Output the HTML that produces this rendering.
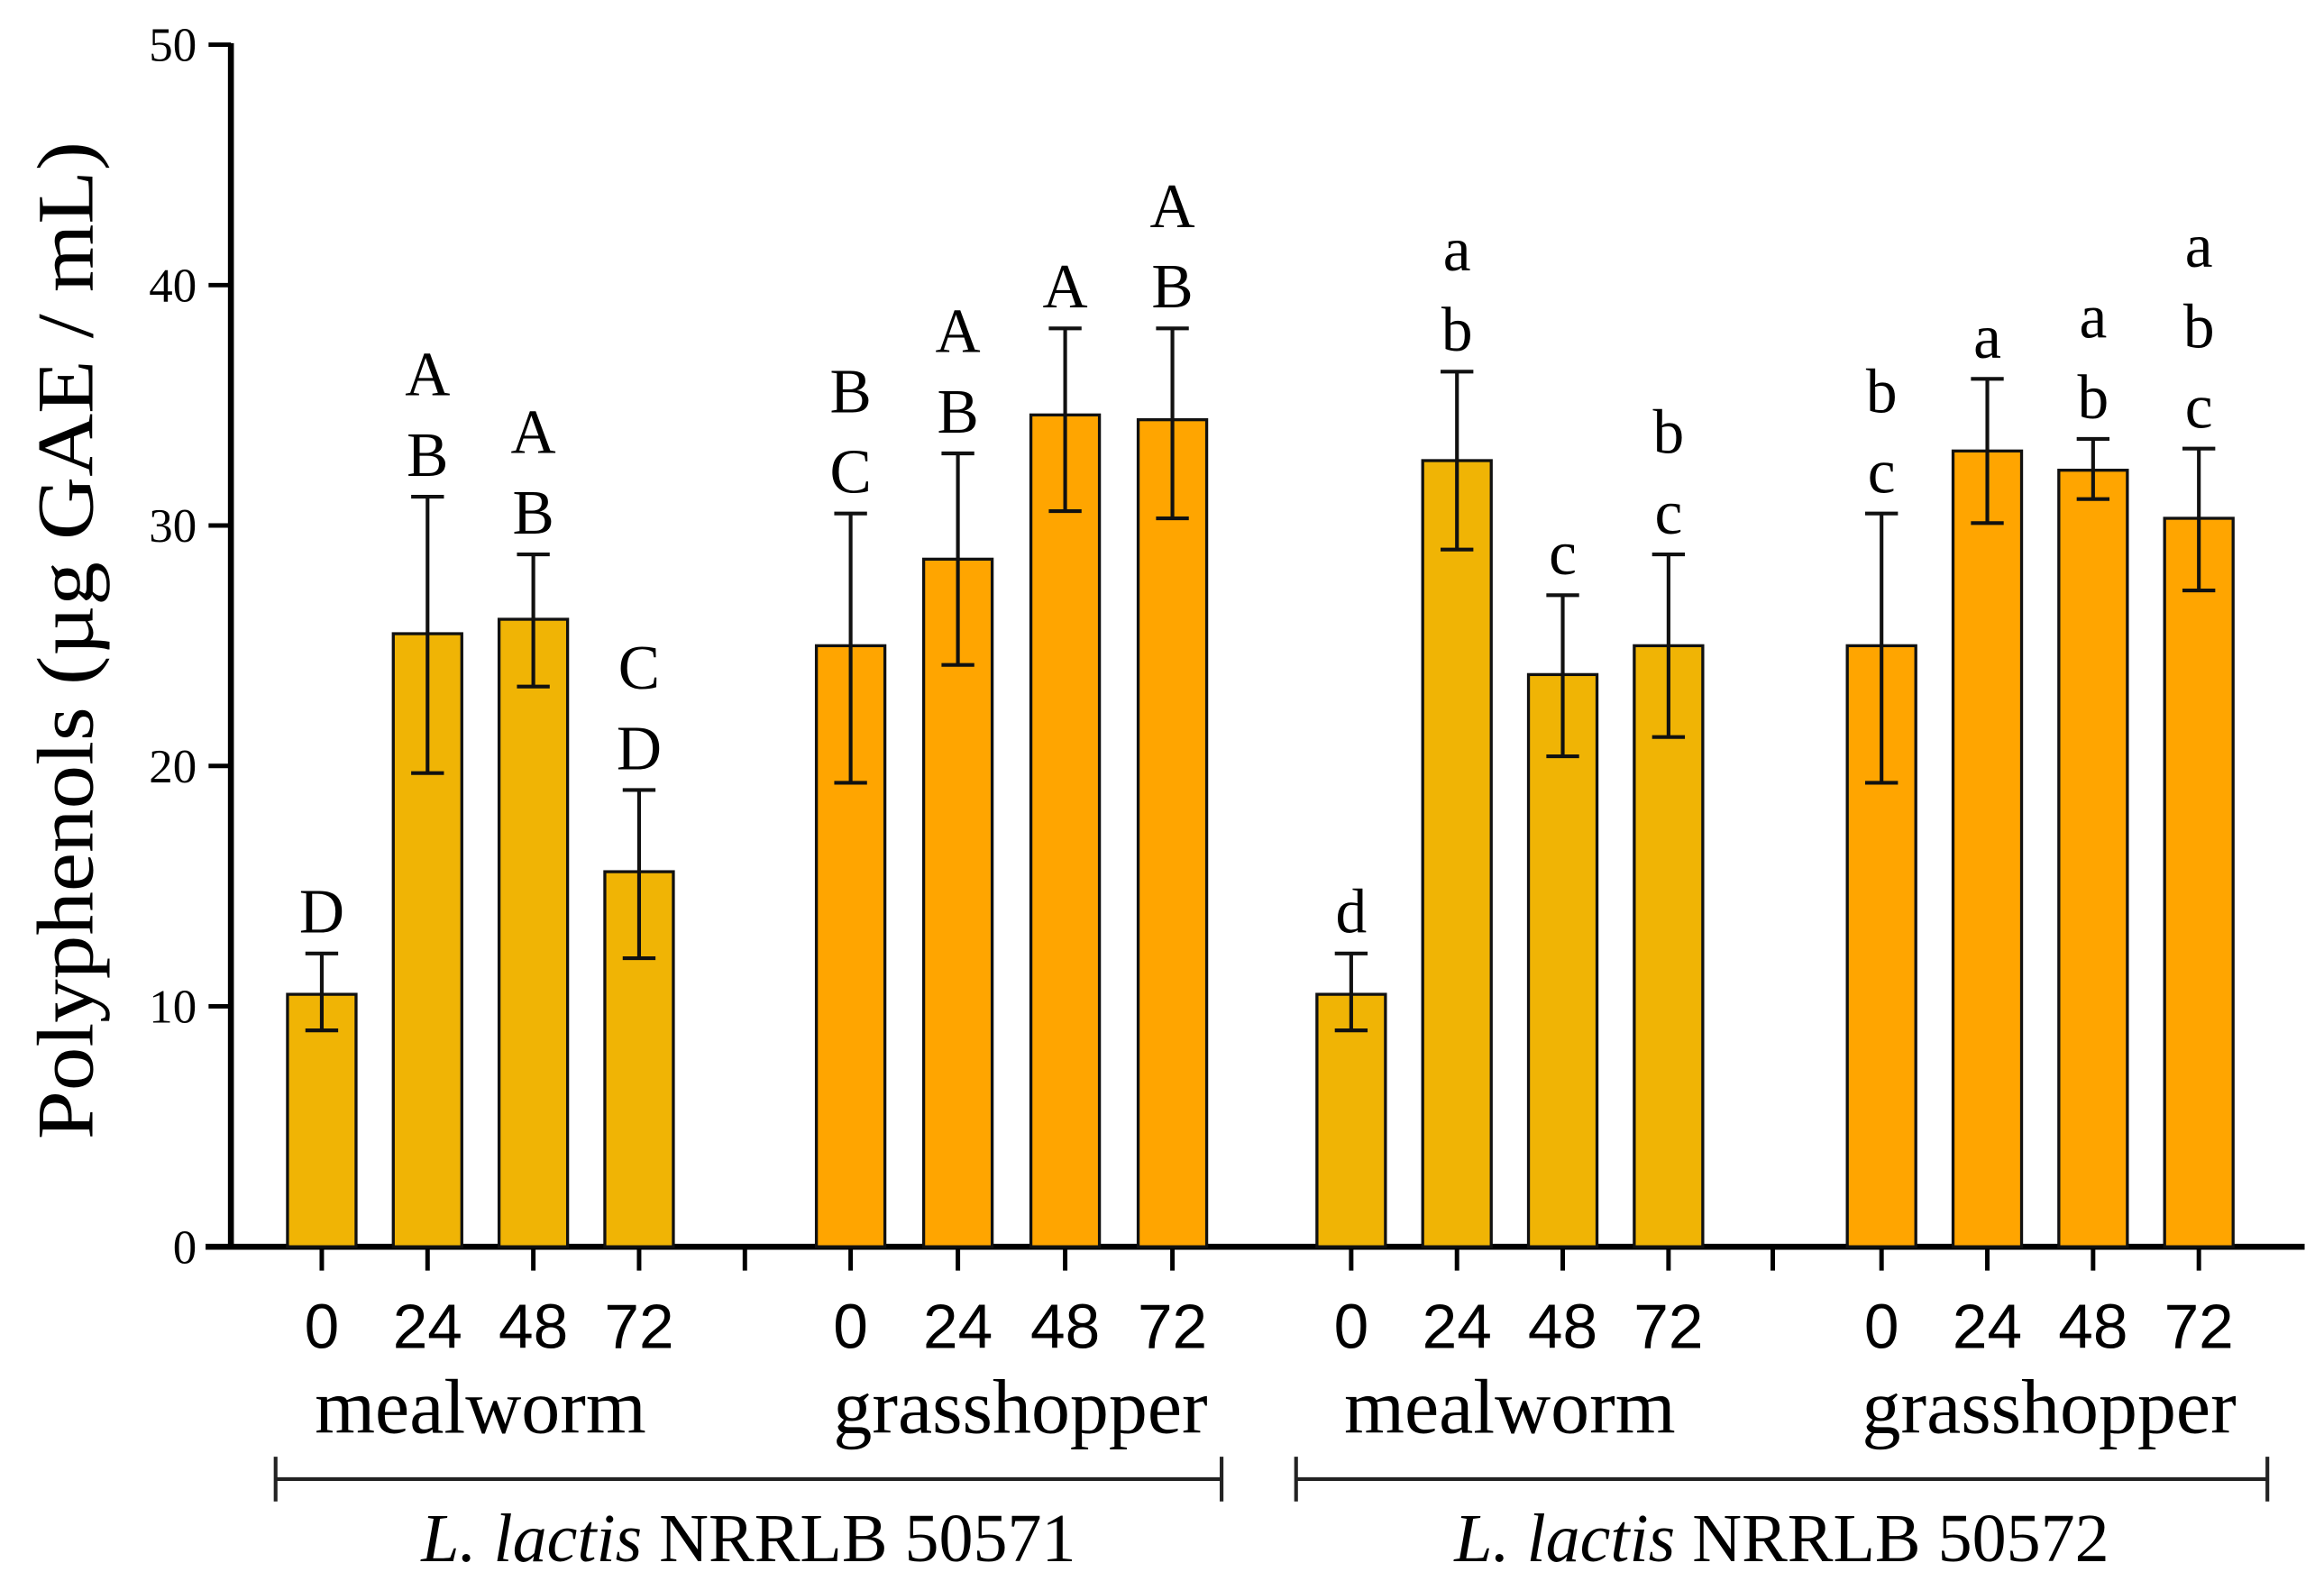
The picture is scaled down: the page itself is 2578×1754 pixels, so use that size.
<!DOCTYPE html>
<html><head><meta charset="utf-8"><style>
html,body{margin:0;padding:0;background:#fff;}
svg{display:block;}
.serif{font-family:"Liberation Serif",serif;}
.sans{font-family:"Liberation Sans",sans-serif;}
</style></head><body>
<svg id="chart" width="2578" height="1754" viewBox="0 0 1560 1061.4" preserveAspectRatio="none" xmlns="http://www.w3.org/2000/svg">
<g id="axes"></g>
<g id="bars"></g>
<g id="labels"></g>
</svg>
<script>
const timeLabels = ["0","24","48","72"];
const groupNames = ["mealworm","grasshopper","mealworm","grasshopper"];
const values = [10.5,25.5,26.1,15.6, 25.0,28.6,34.6,34.4, 10.5,32.7,23.8,25.0, 25.0,33.1,32.3,30.3];
const errLow = [9.0,19.7,23.3,12.0, 19.3,24.2,30.6,30.3, 9.0,29.0,20.4,21.2, 19.3,30.1,31.1,27.3];
const errHigh = [12.2,31.2,28.8,19.0, 30.5,33.0,38.2,38.2, 12.2,36.4,27.1,28.8, 30.5,36.1,33.6,33.2];
const letters = [["D"],["A","B"],["A","B"],["C","D"],["B","C"],["A","B"],["A"],["A","B"],["d"],["a","b"],["c"],["b","c"],["b","c"],["a"],["a","b"],["a","b","c"]];
const yTicks = [0,10,20,30,40,50];

const NS="http://www.w3.org/2000/svg";
function mk(tag,attrs,parent,text){const e=document.createElementNS(NS,tag);for(const k in attrs)e.setAttribute(k,attrs[k]);if(text!==undefined)e.textContent=text;parent.appendChild(e);return e;}
const y0=837, yTop=30, yMax=50;
function yS(v){return y0-(v/yMax)*(y0-yTop);}
const groupStart=[216,571,907,1263], step=[71,72,71,71];
function xS(i){const g=Math.floor(i/4),k=i%4;return groupStart[g]+k*step[g];}
const bw=46;
const axes=document.getElementById('axes'),bars=document.getElementById('bars'),labels=document.getElementById('labels');

let l=mk('line',{x1:155,y1:yTop-1,x2:155,y2:y0+2,stroke:'#000','stroke-width':4},axes);


yTicks.forEach(t=>{
  const tl=mk('line',{x1:140,y1:yS(t),x2:155,y2:yS(t),stroke:'#000','stroke-width':3},axes);
  
  
  const tx=mk('text',{x:132,y:yS(t)+11,'text-anchor':'end','font-size':32,class:'serif'},axes,String(t));
  
  
});
let yt=mk('text',{x:0,y:0,transform:'translate(62,430) rotate(-90)','text-anchor':'middle','font-size':54,class:'serif',textLength:670,lengthAdjust:'spacingAndGlyphs'},axes,'Polyphenols (µg GAE / mL)');



values.forEach((v,i)=>{
  const g=Math.floor(i/4), x=xS(i);
  const fill=(g%2===0)?'#F0B405':'#FFA500';
  const r=mk('rect',{x:x-bw/2,y:yS(v),width:bw,height:y0-yS(v),fill:fill,stroke:'#111','stroke-width':2},bars);
  
  
  const e=mk('path',{d:`M${x},${yS(errLow[i])}V${yS(errHigh[i])}M${x-11},${yS(errLow[i])}H${x+11}M${x-11},${yS(errHigh[i])}H${x+11}`,stroke:'#111','stroke-width':2.5,fill:'none'},bars);
  
  
  const L=letters[i];
  L.forEach((ch,j)=>{
    const t=mk('text',{x:x,y:yS(errHigh[i])-14-(L.length-1-j)*54,'text-anchor':'middle','font-size':42,class:'serif'},labels,ch);
    
    
  });
  const tk=mk('line',{x1:x,y1:y0,x2:x,y2:y0+16,stroke:'#000','stroke-width':3},axes);
  
  
  const tl=mk('text',{x:x,y:905,'text-anchor':'middle','font-size':42,class:'sans'},labels,timeLabels[i%4]);
  
  
});
let xa=mk('line',{x1:138,y1:y0,x2:1547,y2:y0,stroke:'#000','stroke-width':4},axes);


[500,1190].forEach(x=>{
  const s=mk('line',{x1:x,y1:y0,x2:x,y2:y0+16,stroke:'#000','stroke-width':3},axes);
  
  
});
groupNames.forEach((n,g)=>{
  const cx=(xS(g*4)+xS(g*4+3))/2+(g%2===0?0:6);
  const t=mk('text',{x:cx,y:962,'text-anchor':'middle','font-size':52,class:'serif'},labels,n);
  
  
});
[[185,820,'50571'],[870,1522,'50572']].forEach(b=>{
  const p=mk('path',{d:`M${b[0]},978V1008M${b[0]},993H${b[1]}M${b[1]},978V1008`,stroke:'#222','stroke-width':2.5,fill:'none'},labels);
  
  
  const t=mk('text',{x:(b[0]+b[1])/2,y:1048,'text-anchor':'middle','font-size':46,class:'serif'},labels);
  
  
  mk('tspan',{'font-style':'italic'},t,'L. lactis');
  mk('tspan',{},t,' NRRLB '+b[2]);
});
</script>
</body></html>
